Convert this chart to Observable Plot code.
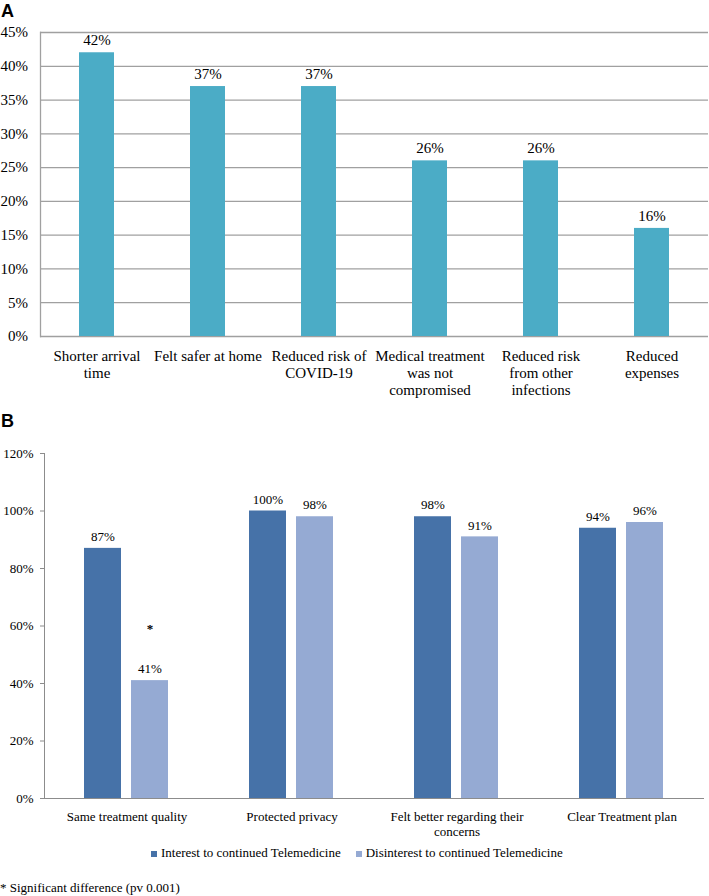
<!DOCTYPE html>
<html>
<head>
<meta charset="utf-8">
<script src="https://cdn.jsdelivr.net/npm/d3@7"></script>
<script src="https://cdn.jsdelivr.net/npm/@observablehq/plot@0.6"></script>
<style>
  body { margin: 0; background: #fff; }
  #wrap { position: relative; width: 709px; height: 896px; overflow: hidden;
          font-family: "Liberation Serif", "Times New Roman", serif; color: #000; }
  .panel-label { position: absolute; left: 1px; font-family: "Liberation Sans", Arial, sans-serif;
                 font-weight: bold; font-size: 18px; line-height: 1; }
  #chartA { position: absolute; left: 0; top: 0; }
  #chartB { position: absolute; left: 0; top: 430px; }
  #legend { position: absolute; left: 151px; top: 845px; font-size: 13px; line-height: 16px;
            display: flex; align-items: center; white-space: nowrap; }
  #legend .item { display: flex; align-items: center; margin-right: 15px; }
  #legend .sw { width: 6px; height: 6px; margin-right: 4px; margin-top: 1px; }
  #note { position: absolute; left: 0; top: 880px; font-size: 13px; line-height: 16px; white-space: nowrap; }
</style>
</head>
<body>
<div id="wrap">
  <div class="panel-label" style="top:1.5px">A</div>
  <div id="chartA"></div>
  <div class="panel-label" style="top:411.5px">B</div>
  <div id="chartB"></div>
  <div id="legend"></div>
  <div id="note"></div>
</div>
<script>
// ---------- Panel A data ----------
const reasons = [
  "Shorter arrival\ntime",
  "Felt safer at home",
  "Reduced risk of\nCOVID-19",
  "Medical treatment\nwas not\ncompromised",
  "Reduced risk\nfrom other\ninfections",
  "Reduced\nexpenses"
];
const reasonShares = [0.42, 0.37, 0.37, 0.26, 0.26, 0.16];
const yTicksA = [0, 0.05, 0.10, 0.15, 0.20, 0.25, 0.30, 0.35, 0.40, 0.45];

// ---------- Panel B data ----------
const aspects = [
  "Same treatment quality",
  "Protected privacy",
  "Felt better regarding their\nconcerns",
  "Clear Treatment plan"
];
const groups = ["Interest to continued Telemedicine", "Disinterest to continued Telemedicine"];
const interestShares = [0.87, 1.00, 0.98, 0.94];
const disinterestShares = [0.41, 0.98, 0.91, 0.96];
const significance = ["*", "", "", ""];
const yTicksB = [0, 0.2, 0.4, 0.6, 0.8, 1.0, 1.2];
const footnote = "* Significant difference (pv 0.001)";

const groupColors = ["#4672a8", "#95aad3"];
const fmtPct = d => Math.round(d * 100) + "%";
const serif = '"Liberation Serif", "Times New Roman", serif';

// ---------- Panel A ----------
const dataA = reasons.map((r, i) => ({reason: r, share: reasonShares[i]}));
const chartA = Plot.plot({
  width: 709, height: 406,
  marginTop: 32, marginBottom: 70, marginLeft: 40, marginRight: 1,
  style: {fontFamily: serif, fontSize: "15px", color: "#000", background: "transparent"},
  x: {domain: reasons, paddingInner: 0.686, paddingOuter: 0.343, label: null},
  y: {domain: [0, 0.45], label: null},
  marks: [
    Plot.gridY(yTicksA, {stroke: "#a0a0a0", strokeOpacity: 1, strokeWidth: 1.3}),
    Plot.frame({anchor: "left", stroke: "#a0a0a0", strokeWidth: 1.3}),
    Plot.barY(dataA, {x: "reason", y: "share", fill: "#4bacc6"}),
    Plot.text(dataA, {x: "reason", y: "share", text: d => fmtPct(d.share), dy: -12.6}),
    Plot.axisY(yTicksA, {tickSize: 0, tickPadding: 12.5, tickFormat: fmtPct, label: null}),
    Plot.axisX({tickSize: 0, tickPadding: 13, lineHeight: 1.11, label: null})
  ]
});
document.getElementById("chartA").appendChild(chartA);

// ---------- Panel B ----------
const dataB = aspects.flatMap((a, i) => [
  {aspect: a, group: groups[0], share: interestShares[i], sig: ""},
  {aspect: a, group: groups[1], share: disinterestShares[i], sig: significance[i]}
]);
const chartB = Plot.plot({
  width: 709, height: 410,
  marginTop: 23, marginBottom: 42, marginLeft: 43, marginRight: 4,
  style: {fontFamily: serif, fontSize: "13px", color: "#000", background: "transparent"},
  fx: {domain: aspects, padding: 0, label: null},
  x: {domain: groups, paddingInner: 0.21, paddingOuter: 0.84, axis: null},
  y: {domain: [0, 1.2], label: null},
  color: {domain: groups, range: groupColors},
  marks: [
    Plot.barY(dataB, {fx: "aspect", x: "group", y: "share", fill: "group"}),
    Plot.text(dataB, {fx: "aspect", x: "group", y: "share", text: d => fmtPct(d.share), dy: -11.5}),
    Plot.text(dataB.filter(d => d.sig), {fx: "aspect", x: "group", y: "share", text: "sig", dy: -52, fontWeight: "bold"}),
    Plot.ruleY([0], {stroke: "#8c8c8c"}),
    Plot.frame({anchor: "left", stroke: "#8c8c8c", facetAnchor: "left"}),
    Plot.axisY(yTicksB, {tickSize: 4, tickPadding: 7, tickFormat: fmtPct, stroke: "#8c8c8c", label: null}),
    Plot.axisFx({anchor: "bottom", tickSize: 0, tickPadding: 11.5, lineHeight: 1.154, label: null})
  ]
});
document.getElementById("chartB").appendChild(chartB);

// ---------- Legend & footnote ----------
const legend = document.getElementById("legend");
groups.forEach((g, i) => {
  const item = document.createElement("div");
  item.className = "item";
  const sw = document.createElement("span");
  sw.className = "sw";
  sw.style.background = groupColors[i];
  const label = document.createElement("span");
  label.textContent = g;
  item.appendChild(sw);
  item.appendChild(label);
  legend.appendChild(item);
});
document.getElementById("note").textContent = footnote;
</script>
</body>
</html>
